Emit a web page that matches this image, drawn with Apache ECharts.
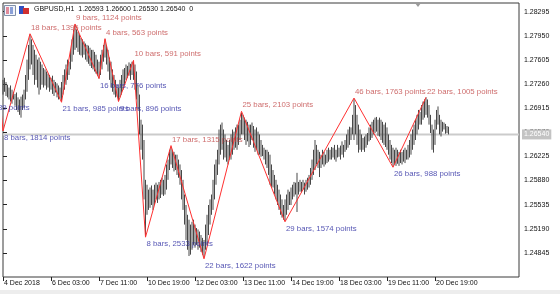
<!DOCTYPE html>
<html>
<head>
<meta charset="utf-8">
<script src="https://cdn.jsdelivr.net/npm/echarts@6/dist/echarts.min.js"></script>
<style>html,body{margin:0;padding:0;background:#fff}#c{width:560px;height:294px}</style>
</head>
<body>
<div id="c"></div>
<script>
// ---- data ----
const symbolTitle = "GBPUSD,H1  1.26593 1.26600 1.26530 1.26540  0";
const lastPrice = 1.26540;
const tickBars = [0, 32, 64, 96, 128, 160, 192, 224, 256, 288];
const tickLabels = ["4 Dec 2018", "6 Dec 03:00", "7 Dec 11:00", "10 Dec 19:00", "12 Dec 03:00", "13 Dec 11:00", "14 Dec 19:00", "18 Dec 03:00", "19 Dec 11:00", "20 Dec 19:00"];
const priceTicks = [1.24845, 1.25190, 1.25535, 1.25880, 1.26225, 1.26570, 1.26915, 1.27260, 1.27605, 1.27950, 1.28295];

const highs = [
1.2732,1.2735,1.2729,1.2725,1.2721,1.2724,1.2718,1.2715,1.2712,1.2714,
1.2707,1.2704,1.2708,1.2711,1.2718,1.2739,1.2761,1.2782,1.2797,1.2790,
1.2782,1.2775,1.2768,1.2761,1.2764,1.2758,1.2754,1.2749,1.2747,1.2744,
1.2741,1.2739,1.2735,1.2738,1.2732,1.2729,1.2727,1.2724,1.2721,1.2729,
1.2739,1.2747,1.2754,1.2761,1.2758,1.2775,1.2790,1.2804,1.2811,1.2804,
1.2801,1.2797,1.2792,1.2790,1.2787,1.2784,1.2782,1.2781,1.2778,1.2775,
1.2775,1.2772,1.2768,1.2761,1.2758,1.2768,1.2775,1.2782,1.2790,1.2782,
1.2775,1.2764,1.2758,1.2747,1.2739,1.2732,1.2725,1.2721,1.2732,1.2739,
1.2747,1.2749,1.2754,1.2752,1.2757,1.2755,1.2758,1.2759,1.2754,1.2744,
1.2725,1.2711,1.2675,1.2668,1.2646,1.2589,1.2582,1.2575,1.2578,1.2581,
1.2575,1.2582,1.2585,1.2582,1.2586,1.2589,1.2592,1.2589,1.2596,1.2611,
1.2618,1.2632,1.2636,1.2632,1.2629,1.2625,1.2625,1.2618,1.2611,1.2603,
1.2589,1.2568,1.2553,1.2539,1.2532,1.2525,1.2529,1.2532,1.2525,1.2520,
1.2518,1.2515,1.2510,1.2506,1.2503,1.2525,1.2539,1.2553,1.2561,1.2568,
1.2589,1.2611,1.2618,1.2632,1.2661,1.2668,1.2671,1.2661,1.2654,1.2646,
1.2639,1.2646,1.2654,1.2661,1.2658,1.2664,1.2668,1.2668,1.2675,1.2685,
1.2682,1.2678,1.2675,1.2672,1.2668,1.2668,1.2671,1.2666,1.2661,1.2664,
1.2658,1.2654,1.2646,1.2639,1.2635,1.2632,1.2632,1.2629,1.2625,1.2611,
1.2603,1.2596,1.2589,1.2582,1.2575,1.2568,1.2561,1.2553,1.2561,1.2568,
1.2575,1.2572,1.2578,1.2582,1.2586,1.2585,1.2599,1.2586,1.2589,1.2586,
1.2589,1.2585,1.2589,1.2592,1.2596,1.2606,1.2618,1.2632,1.2646,1.2639,
1.2632,1.2629,1.2625,1.2632,1.2629,1.2625,1.2632,1.2635,1.2632,1.2636,
1.2635,1.2639,1.2632,1.2639,1.2635,1.2638,1.2644,1.2639,1.2646,1.2654,
1.2661,1.2665,1.2664,1.2682,1.2705,1.2696,1.2682,1.2668,1.2661,1.2654,
1.2649,1.2651,1.2654,1.2656,1.2664,1.2668,1.2672,1.2675,1.2678,1.2679,
1.2675,1.2678,1.2675,1.2672,1.2668,1.2671,1.2664,1.2654,1.2646,1.2639,
1.2635,1.2632,1.2635,1.2632,1.2629,1.2632,1.2629,1.2632,1.2635,1.2632,
1.2639,1.2646,1.2654,1.2661,1.2668,1.2675,1.2682,1.2689,1.2686,1.2696,
1.2701,1.2704,1.2707,1.2704,1.2696,1.2682,1.2668,1.2661,1.2675,1.2689,
1.2694,1.2682,1.2675,1.2672,1.2671,1.2669,1.2666,1.2665
];
const lows = [
1.2711,1.2715,1.2709,1.2707,1.2704,1.2701,1.2698,1.2704,1.2695,1.2689,
1.2686,1.2682,1.2678,1.2689,1.2692,1.2704,1.2715,1.2732,1.2747,1.2754,
1.2739,1.2725,1.2732,1.2721,1.2711,1.2718,1.2725,1.2721,1.2724,1.2718,
1.2721,1.2715,1.2718,1.2712,1.2709,1.2714,1.2707,1.2704,1.2705,1.2702,
1.2711,1.2718,1.2725,1.2732,1.2739,1.2747,1.2758,1.2768,1.2775,1.2778,
1.2772,1.2768,1.2767,1.2764,1.2768,1.2761,1.2758,1.2755,1.2752,1.2749,
1.2747,1.2744,1.2741,1.2738,1.2734,1.2739,1.2747,1.2758,1.2764,1.2754,
1.2744,1.2732,1.2721,1.2715,1.2711,1.2707,1.2708,1.2702,1.2707,1.2711,
1.2718,1.2725,1.2732,1.2735,1.2738,1.2732,1.2739,1.2732,1.2718,1.2704,
1.2689,1.2654,1.2632,1.2618,1.2561,1.2508,1.2539,1.2546,1.2549,1.2553,
1.2546,1.2553,1.2561,1.2556,1.2561,1.2563,1.2568,1.2566,1.2568,1.2575,
1.2589,1.2603,1.2611,1.2606,1.2601,1.2603,1.2596,1.2592,1.2582,1.2561,
1.2546,1.2525,1.2503,1.2489,1.2480,1.2482,1.2489,1.2496,1.2492,1.2496,
1.2489,1.2492,1.2486,1.2482,1.2478,1.2489,1.2496,1.2510,1.2525,1.2539,
1.2546,1.2561,1.2582,1.2596,1.2611,1.2625,1.2632,1.2618,1.2621,1.2615,
1.2611,1.2618,1.2618,1.2625,1.2632,1.2635,1.2632,1.2639,1.2646,1.2654,
1.2654,1.2646,1.2639,1.2644,1.2636,1.2639,1.2646,1.2635,1.2629,1.2632,
1.2625,1.2625,1.2622,1.2623,1.2618,1.2611,1.2606,1.2596,1.2582,1.2579,
1.2578,1.2568,1.2561,1.2553,1.2546,1.2539,1.2535,1.2532,1.2530,1.2539,
1.2546,1.2553,1.2553,1.2561,1.2565,1.2568,1.2543,1.2568,1.2572,1.2571,
1.2575,1.2568,1.2572,1.2575,1.2578,1.2582,1.2589,1.2596,1.2603,1.2611,
1.2606,1.2593,1.2606,1.2611,1.2608,1.2611,1.2613,1.2615,1.2618,1.2618,
1.2621,1.2618,1.2615,1.2621,1.2622,1.2618,1.2625,1.2621,1.2629,1.2632,
1.2635,1.2639,1.2646,1.2654,1.2646,1.2654,1.2639,1.2628,1.2632,1.2629,
1.2632,1.2629,1.2635,1.2639,1.2644,1.2646,1.2649,1.2654,1.2656,1.2658,
1.2652,1.2651,1.2646,1.2642,1.2639,1.2636,1.2632,1.2625,1.2618,1.2613,
1.2608,1.2611,1.2609,1.2612,1.2609,1.2613,1.2611,1.2615,1.2613,1.2618,
1.2618,1.2621,1.2625,1.2632,1.2639,1.2646,1.2654,1.2661,1.2668,1.2668,
1.2675,1.2678,1.2682,1.2678,1.2668,1.2656,1.2632,1.2628,1.2639,1.2661,
1.2668,1.2654,1.2651,1.2658,1.2661,1.2655,1.2656,1.2654
];

// zigzag pivots (bar index, price, label)
const pivotBars   = [-30, -8, 0, 18, 39, 48, 64, 68, 77, 87, 95, 112, 134, 159, 188, 234, 260, 282];
const pivotPrices = [1.2702, 1.2841, 1.2659, 1.2798, 1.2700, 1.2812, 1.2734, 1.2791, 1.2701, 1.2760, 1.2507, 1.2638, 1.2476, 1.2687, 1.2529, 1.2706, 1.2607, 1.2707];
const pivotKinds  = ["low", "high", "low", "high", "low", "high", "low", "high", "low", "high", "low", "high", "low", "high", "low", "high", "low", "high"];
const pivotLabels = ["21 bars, 1389 points", "", "8 bars, 1814 points", "18 bars, 1395 points", "21 bars, 985 points", "9 bars, 1124 points", "16 bars, 776 points", "4 bars, 563 points", "9 bars, 896 points", "10 bars, 591 points", "8 bars, 2533 points", "17 bars, 1315 points", "22 bars, 1622 points", "25 bars, 2103 points", "29 bars, 1574 points", "46 bars, 1763 points", "26 bars, 988 points", "22 bars, 1005 points"];

// ---- chart ----
const FONT = "'Liberation Sans', Arial, sans-serif";
const chart = echarts.init(document.getElementById('c'), null, {renderer: 'canvas'});

const barData = highs.map((h, i) => [i, lows[i], h]);
const zigData = pivotBars.map((b, i) => [b, pivotPrices[i]]);
const labelData = pivotBars.map((b, i) => ({
  value: [b, pivotPrices[i]],
  label: {
    show: pivotLabels[i] !== "",
    formatter: pivotLabels[i],
    color: pivotKinds[i] === "high" ? "#c24848" : "#2a2aa0",
    offset: [0, pivotKinds[i] === "high" ? -6 : 7]
  }
}));
const xMin = 0, xMax = 344;

chart.setOption({
  animation: false,
  backgroundColor: '#fff',
  grid: {left: 3, right: 41, top: 3, bottom: 17, show: true, borderColor: '#3a3a3a', borderWidth: 1, backgroundColor: '#fff', containLabel: false, outerBoundsMode: 'none'},
  xAxis: {
    type: 'value', min: xMin, max: xMax,
    splitLine: {show: false},
    axisLine: {show: false},
    axisTick: {show: true, customValues: tickBars, length: 4, lineStyle: {color: '#222'}},
    axisLabel: {customValues: tickBars, formatter: v => tickLabels[tickBars.indexOf(v)] || '', align: 'left', margin: 3, padding: [0, 0, 0, 1], fontSize: 7, color: '#111', fontFamily: FONT}
  },
  yAxis: {
    type: 'value', position: 'right', min: 1.245, max: 1.2842,
    splitLine: {show: false},
    axisLine: {show: false},
    axisTick: {show: true, customValues: priceTicks, length: 4, lineStyle: {color: '#222'}},
    axisLabel: {customValues: priceTicks, formatter: v => v.toFixed(5), margin: 5, fontSize: 7, color: '#111', fontFamily: FONT}
  },
  graphic: [
    {type: 'rect', left: 4, top: 5, shape: {width: 11, height: 10}, style: {fill: '#f2f4fa', stroke: '#8090aa', lineWidth: 1}, z: 10},
    {type: 'rect', left: 6, top: 7, shape: {width: 3, height: 7}, style: {fill: '#e08a9a'}, z: 11},
    {type: 'rect', left: 10, top: 7, shape: {width: 3, height: 7}, style: {fill: '#8aa0d8'}, z: 11},
    {type: 'rect', left: 19, top: 6, shape: {width: 5, height: 8}, style: {fill: '#3050c0'}, z: 10},
    {type: 'rect', left: 23, top: 8, shape: {width: 6, height: 6}, style: {fill: '#d03030'}, z: 10},
    {type: 'text', left: 34, top: 6, style: {text: symbolTitle, fill: '#111', font: '7px ' + FONT}, z: 10},
    {type: 'polygon', shape: {points: [[415, 3], [421, 3], [418, 7]]}, style: {fill: '#9a9a9a'}, z: 10},
    {type: 'rect', left: 0, top: 290, shape: {width: 560, height: 4}, style: {fill: '#ededed'}, z: 0}
  ],
  series: [
    {
      type: 'line', z: 1, data: [[xMin, lastPrice], [xMax, lastPrice]], symbol: 'none', silent: true,
      lineStyle: {color: '#cbcbcb', width: 2},
      endLabel: {show: true, distance: 3, formatter: lastPrice.toFixed(5), backgroundColor: '#c3c3c3', color: '#fff', padding: [2, 2, 1, 2], fontSize: 7, fontFamily: FONT}
    },
    {
      type: 'custom', z: 2, data: barData,
      renderItem: (params, api) => {
        const x = api.value(0);
        const p1 = api.coord([x, api.value(1)]);
        const p2 = api.coord([x, api.value(2)]);
        return {type: 'line', shape: {x1: p1[0], y1: p1[1], x2: p2[0], y2: p2[1]}, style: {stroke: '#484848', lineWidth: 1}};
      }
    },
    {
      type: 'line', z: 3, data: zigData, symbol: 'none', lineStyle: {color: '#ff3030', width: 1}
    },
    {
      type: 'scatter', z: 4, data: labelData, symbolSize: 0, clip: false, silent: true,
      label: {show: true, position: 'right', distance: 1, fontSize: 7.8, fontFamily: FONT}
    }
  ]
});
</script>
</body>
</html>
